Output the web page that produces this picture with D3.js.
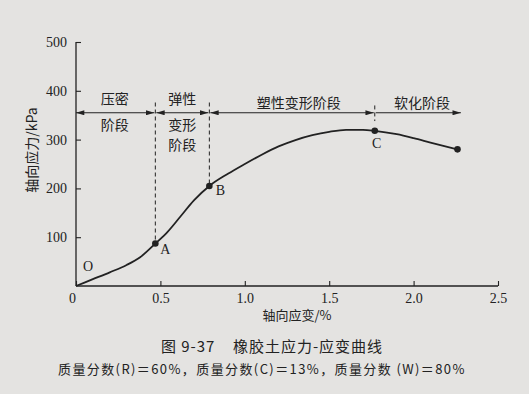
<!DOCTYPE html>
<html><head><meta charset="utf-8">
<script src="https://cdn.jsdelivr.net/npm/d3@7"></script>
<style>
body{margin:0;background:#e4e3e1;}
svg{display:block;}
</style></head><body>
<svg id="c" width="529" height="394"></svg>
<script>
const strain = [0, 0.1, 0.2, 0.3, 0.38, 0.47, 0.54, 0.62, 0.70, 0.79, 0.9, 1.0, 1.1, 1.2, 1.3, 1.4, 1.5, 1.6, 1.7, 1.77, 1.9, 2.0, 2.1, 2.26];
const stress = [0, 14, 28, 43, 59, 87, 110, 143, 176, 205, 230, 250, 269, 286, 299, 309, 316, 320, 320, 318, 311, 303, 294, 280];
const keyNames = ["A", "B", "C", ""];
const keyStrain = [0.47, 0.79, 1.77, 2.26];
const keyStress = [87, 205, 318, 280];
const xTicks = [0, 0.5, 1.0, 1.5, 2.0, 2.5];
const yTicks = [100, 200, 300, 400, 500];
const stageNames = [["压密", "阶段"], ["弹性", "变形", "阶段"], ["塑性变形阶段"], ["软化阶段"]];
const stageBounds = [0, 0.47, 0.79, 1.77, 2.28];
const arrowStress = 355;

const svg = d3.select("#c");
const ink = "#222";
const x = d3.scaleLinear().domain([0, 2.5]).range([76, 498]);
const y = d3.scaleLinear().domain([0, 500]).range([286, 42]);

const defs = svg.append("defs");
defs.append("marker").attr("id", "ah").attr("viewBox", "0 0 10 6").attr("refX", 10).attr("refY", 3)
  .attr("markerWidth", 9).attr("markerHeight", 5).attr("markerUnits", "userSpaceOnUse").attr("orient", "auto-start-reverse")
  .append("path").attr("d", "M0,0 L10,3 L0,6 Z").attr("fill", ink);

// axes
const xAxis = d3.axisBottom(x).tickValues(xTicks).tickSize(-5).tickPadding(7)
  .tickFormat(d => d === 0 ? "0" : d3.format(".1f")(d));
const gx = svg.append("g").attr("transform", `translate(0,${y(0)})`).call(xAxis);
const yAxis = d3.axisLeft(y).tickValues(yTicks).tickSize(-5).tickPadding(9).tickFormat(d3.format("d"));
const gy = svg.append("g").attr("transform", `translate(${x(0)},0)`).call(yAxis);
[gx, gy].forEach(g => {
  g.select(".domain").attr("stroke", ink).attr("stroke-width", 1.3);
  g.selectAll(".tick line").attr("stroke", ink).attr("stroke-width", 1.1);
  g.selectAll(".tick text").attr("fill", ink).attr("font-family", "Liberation Serif").attr("font-size", 14);
});
gx.selectAll(".tick text").filter(d => d === 0).attr("dx", -4);
gx.select(".domain").attr("d", `M${x(0)},0H${x(2.5)}`);
gy.select(".domain").attr("d", `M0,${y(0)}V${y(500)}`);

// curve
const pts = strain.map((s, i) => [s, stress[i]]);
svg.append("path").datum(pts)
  .attr("d", d3.line().x(d => x(d[0])).y(d => y(d[1])).curve(d3.curveMonotoneX))
  .attr("fill", "none").attr("stroke", ink).attr("stroke-width", 1.8);

// dashed lines
[[keyStrain[0], 376, keyStress[0]], [keyStrain[1], 376, keyStress[1]], [keyStrain[2], 370, 338]].forEach(d => {
  svg.append("line").attr("x1", x(d[0])).attr("x2", x(d[0])).attr("y1", y(d[1])).attr("y2", y(d[2]))
    .attr("stroke", ink).attr("stroke-width", 1).attr("stroke-dasharray", "4,3");
});

// stage arrows
for (let i = 0; i < 4; i++) {
  const ln = svg.append("line").attr("x1", x(stageBounds[i]) + (i === 0 ? 0 : 1)).attr("x2", x(stageBounds[i + 1]) - (i === 3 ? 0 : 1))
    .attr("y1", y(arrowStress)).attr("y2", y(arrowStress)).attr("stroke", ink).attr("stroke-width", 1.1)
    .attr("marker-end", "url(#ah)");
  if (i < 3) ln.attr("marker-start", "url(#ah)");
}

// stage labels
const cjk = "'Noto Sans CJK SC', sans-serif";
const stageCx = [0.23, 0.63, 1.32, 2.05];
stageNames.forEach((lines, i) => {
  lines.forEach((t, j) => {
    let yy;
    if (i < 2) yy = [100, 126, 146][j];
    else yy = 104;
    svg.append("text").attr("x", x(stageCx[i])).attr("y", yy).attr("text-anchor", "middle")
      .attr("dominant-baseline", "middle").attr("font-family", cjk).attr("font-size", 14).attr("fill", ink).text(t);
  });
});

// key points
svg.selectAll("circle.k").data(keyStrain).enter().append("circle")
  .attr("cx", d => x(d)).attr("cy", (d, i) => y(keyStress[i])).attr("r", 3.3).attr("fill", ink);
const lblOff = [[10, 7], [11, 6], [2, 14], [0, 0]];
keyNames.forEach((n, i) => {
  if (!n) return;
  svg.append("text").attr("x", x(keyStrain[i]) + lblOff[i][0]).attr("y", y(keyStress[i]) + lblOff[i][1])
    .attr("text-anchor", "middle").attr("dominant-baseline", "middle").attr("font-family", "Liberation Serif")
    .attr("font-size", 14).attr("fill", ink).text(n);
});
svg.append("text").attr("x", x(0) + 12).attr("y", y(0) - 18).attr("text-anchor", "middle").attr("dominant-baseline", "middle")
  .attr("font-family", "Liberation Serif").attr("font-size", 14).attr("fill", ink).text("O");

// axis titles
svg.append("text").attr("transform", "translate(33,150) rotate(-90)").attr("text-anchor", "middle")
  .attr("dominant-baseline", "middle").attr("font-family", cjk).attr("font-size", 14).attr("fill", ink).text("轴向应力/kPa");
svg.append("text").attr("x", 297).attr("y", 316).attr("text-anchor", "middle").attr("dominant-baseline", "middle")
  .attr("font-family", cjk).attr("font-size", 13).attr("fill", ink).text("轴向应变/%");
svg.append("text").attr("x", 272).attr("y", 348).attr("text-anchor", "middle").attr("dominant-baseline", "middle")
  .attr("font-family", cjk).attr("font-size", 15).attr("letter-spacing", 1).attr("fill", ink).attr("xml:space", "preserve").text("图 9-37    橡胶土应力-应变曲线");
svg.append("text").attr("x", 58).attr("y", 370).attr("dominant-baseline", "middle")
  .attr("font-family", cjk).attr("font-size", 13).attr("letter-spacing", 1.4).attr("fill", ink).text("质量分数(R)＝60%，质量分数(C)＝13%，质量分数 (W)＝80%");
</script>
</body></html>
